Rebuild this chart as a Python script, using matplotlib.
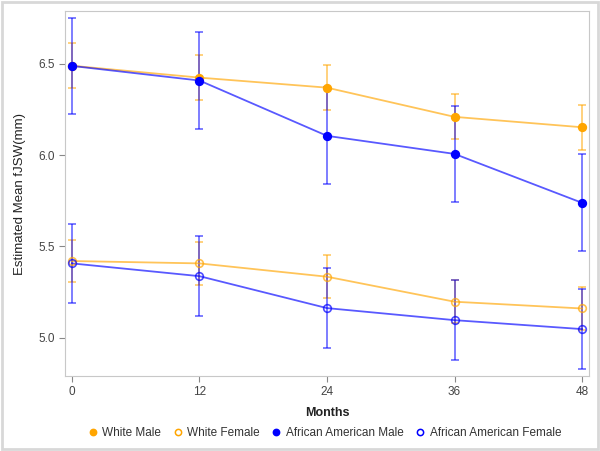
import matplotlib
matplotlib.use("Agg")
import matplotlib.pyplot as plt
from matplotlib.patches import Rectangle

plt.rcParams["font.family"] = ["Liberation Sans", "DejaVu Sans"]

months = [0, 12, 24, 36, 48]

wm_mean = [6.49, 6.425, 6.37, 6.21, 6.153]
wm_err = [0.124, 0.124, 0.124, 0.124, 0.124]
wf_mean = [5.42, 5.407, 5.334, 5.197, 5.160]
wf_err = [0.117, 0.117, 0.117, 0.117, 0.117]
aam_mean = [6.489, 6.409, 6.106, 6.007, 5.739]
aam_err = [0.264, 0.265, 0.265, 0.265, 0.265]
aaf_mean = [5.407, 5.337, 5.162, 5.096, 5.047]
aaf_err = [0.216, 0.218, 0.218, 0.218, 0.218]

orange = "#FFA500"
blue = "#0000FF"

fig = plt.figure(figsize=(6, 4.51), dpi=100)
ax = fig.add_axes([0.1083, 0.1663, 0.8734, 0.8093])

series = [
    ("White Male", wm_mean, wm_err, orange, True),
    ("White Female", wf_mean, wf_err, orange, False),
    ("African American Male", aam_mean, aam_err, blue, True),
    ("African American Female", aaf_mean, aaf_err, blue, False),
]

for label, mean, err, col, filled in series:
    ax.errorbar(months, mean, yerr=err, fmt="none", ecolor=col, alpha=0.55,
                elinewidth=1.3, capsize=3, capthick=1.3, zorder=2)
    ax.plot(months, mean, color=col, alpha=0.65, lw=1.3, zorder=3)
    ax.plot(months, mean, ls="none", marker="o", ms=5.5,
            mfc=col if filled else "none", mec=col, mew=1.2,
            alpha=1.0 if filled else 0.7, zorder=4)

handles = []
for label, mean, err, col, filled in series:
    h, = ax.plot([], [], ls="none", marker="o", ms=4.5,
                 mfc=col if filled else "none", mec=col, mew=1.1, label=label)
    handles.append(h)

ax.set_xlim(-0.66, 48.66)
ax.set_ylim(4.79, 6.79)
ax.set_xticks(months)
ax.set_yticks([5.0, 5.5, 6.0, 6.5])
ax.set_yticklabels(["5.0", "5.5", "6.0", "6.5"])

for s in ax.spines.values():
    s.set_color("#C8C8C8")
ax.tick_params(colors="#888888", labelsize=8.5, length=4, width=0.8,
               labelcolor="#444444")
ax.set_xlabel("Months", fontsize=9, fontweight="bold", color="#222222", labelpad=6)
ax.set_ylabel("Estimated Mean fJSW(mm)", fontsize=9.5, color="#222222", labelpad=9)

fig.legend(handles=handles, loc="center", bbox_to_anchor=(0.54, 0.04), ncol=4,
           frameon=False, fontsize=8.5, handletextpad=0.3, columnspacing=0.9,
           handlelength=1.0, labelcolor="#333333")

fig.patches.append(Rectangle((0.003, 0.004), 0.994, 0.992, transform=fig.transFigure,
                             fill=False, edgecolor="#D8D8D8", lw=2, zorder=0))

fig.savefig("out.png", dpi=100)
